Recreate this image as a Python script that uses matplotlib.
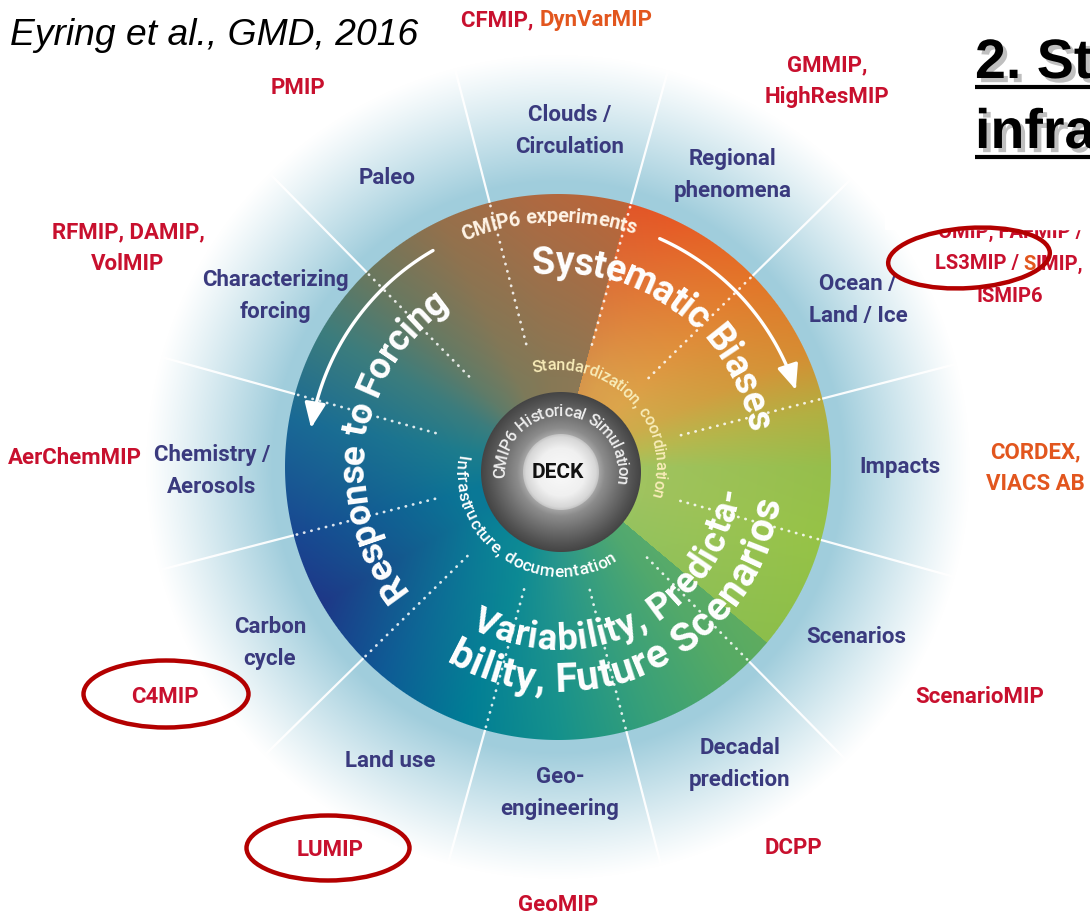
import numpy as np
import matplotlib
matplotlib.use('Agg')
import matplotlib.pyplot as plt
from matplotlib.patches import Ellipse, FancyArrowPatch, Rectangle
from matplotlib.path import Path
from matplotlib import font_manager, patheffects as pe
from matplotlib.ft2font import FT2Font

W, H = 1090, 916
FONT = ['Liberation Sans Narrow', 'DejaVu Sans Condensed', 'Roboto', 'DejaVu Sans']
BLUE = '#3a3a7e'
RED = '#c8102e'
ORANGE = '#e2561e'
LABEL_SIZE = 16

# --- data -------------------------------------------------------------
themes = ['Clouds /\nCirculation', 'Regional\nphenomena', 'Paleo', 'Characterizing\nforcing',
          'Ocean /\nLand / Ice', 'Chemistry /\nAerosols', 'Impacts', 'Carbon\ncycle',
          'Scenarios', 'Land use', 'Geo-\nengineering', 'Decadal\nprediction']
mips = ['GMMIP,\nHighResMIP', 'PMIP', 'RFMIP, DAMIP,\nVolMIP', 'AerChemMIP',
        'C4MIP', 'ScenarioMIP', 'LUMIP', 'DCPP', 'GeoMIP']
circled = ['LS3MIP', 'C4MIP', 'LUMIP']
spoke_angles = [14.5 + 30 * k for k in range(12)]

# wheel colours by angle (deg, counter-clockwise from east), outer rim and near hub
stop_angles = [0, 12, 25, 45, 65, 74.9, 75, 95, 115, 135, 150, 170, 195, 210, 230, 250, 270, 290, 310, 319.9, 320, 345, 360]
outer_rgb = [(150, 190, 75), (178, 175, 65), (215, 140, 50), (228, 115, 40), (230, 90, 38), (225, 85, 40),
             (190, 100, 55), (175, 105, 65), (150, 112, 75), (105, 120, 95), (60, 125, 125), (25, 105, 150),
             (25, 70, 145), (30, 55, 135), (15, 90, 150), (0, 125, 150), (20, 145, 140), (55, 160, 120),
             (85, 170, 100), (95, 172, 95), (140, 190, 75), (150, 195, 70), (150, 190, 75)]
inner_rgb = [(160, 195, 95), (185, 185, 80), (205, 172, 75), (220, 165, 75), (218, 158, 75), (215, 150, 75),
             (140, 120, 85), (135, 120, 85), (125, 122, 90), (95, 124, 105), (60, 125, 125), (30, 125, 140),
             (10, 120, 150), (10, 122, 150), (10, 132, 150), (15, 140, 148), (40, 150, 140), (60, 160, 125),
             (80, 168, 112), (85, 170, 110), (150, 195, 95), (160, 195, 95), (160, 195, 95)]

# --- layout -------------------------------------------------------------
CX, CY = 558, H - 467      # wheel centre
R = 273
GX, GY = 561, H - 472      # hub centre
theme_xy = [(570, 131), (733, 175), (387, 178), (275, 296), (858, 300), (212, 471),
            (900, 467), (270, 643), (856, 637), (390, 761), (560, 793), (740, 764)]
mip_xy = [(827, 81), (298, 88), (128, 248), (75, 458), (165, 697), (980, 697),
          (330, 850), (793, 848), (558, 905)]
ellipse_geo = [((969, 258), 162, 60, 4), ((166, 694), 165, 67, 0), ((328, 848), 163, 65, 0)]

fig = plt.figure(figsize=(W / 100, H / 100), dpi=100)
ax = fig.add_axes([0, 0, 1, 1])
ax.set_xlim(0, W)
ax.set_ylim(0, H)
ax.axis('off')


def Y(ypx):
    return H - ypx


# --- background glow, wheel and hub as one image ------------------------
xx, yy = np.meshgrid(np.arange(W) + 0.5, H - (np.arange(H) + 0.5))
r = np.hypot(xx - CX, yy - CY)
th = np.degrees(np.arctan2(yy - CY, xx - CX)) % 360
img = np.ones((H, W, 3))

glow = np.clip((412 - r) / 127, 0, 1) ** 1.1
glow_rgb = np.array([160, 205, 220]) / 255
img = img * (1 - glow[..., None]) + glow_rgb * glow[..., None]

outer = np.stack([np.interp(th, stop_angles, [c[i] for c in outer_rgb]) for i in range(3)], -1) / 255
inner = np.stack([np.interp(th, stop_angles, [c[i] for c in inner_rgb]) for i in range(3)], -1) / 255
t = np.clip((r - 90) / (R - 90), 0, 1)[..., None]
wheel = inner * (1 - t) + outer * t
a = np.clip(R - r + 0.5, 0, 1)[..., None]
img = img * (1 - a) + wheel * a

rg = np.hypot(xx - GX, yy - GY)
ring = np.interp(rg, [38, 44, 58, 72, 80], [165, 140, 110, 82, 68]) / 255
a = np.clip(80 - rg + 0.5, 0, 1)[..., None]
img = img * (1 - a) + ring[..., None] * a
disk = np.interp(rg, [0, 24, 35, 38], [250, 240, 215, 195]) / 255
a = np.clip(38 - rg + 0.5, 0, 1)[..., None]
img = img * (1 - a) + disk[..., None] * a

ax.imshow(img, extent=[0, W, 0, H], zorder=0, interpolation='nearest')

# --- spokes ---------------------------------------------------------------
for ang in spoke_angles:
    c, s = np.cos(np.radians(ang)), np.sin(np.radians(ang))
    ax.plot([CX + (R + 1) * c, CX + 410 * c], [CY + (R + 1) * s, CY + 410 * s],
            color='white', lw=1.6, alpha=0.95, zorder=1)
    ax.plot([CX + 127 * c, CX + (R - 2) * c], [CY + 127 * s, CY + (R - 2) * s],
            color='white', lw=2.0, alpha=0.85, linestyle=(0, (0.1, 2.6)),
            dash_capstyle='round', zorder=1)

# --- curved arrows --------------------------------------------------------
for a0, a1 in [(120, 171), (66, 18)]:
    angs = np.radians(np.linspace(a0, a1, 60))
    rr = np.full_like(angs, 250.0)
    verts = np.column_stack([CX + rr * np.cos(angs), CY + rr * np.sin(angs)])
    ax.add_patch(FancyArrowPatch(path=Path(verts), arrowstyle='-|>,head_length=0.75,head_width=0.32',
                                 mutation_scale=20, lw=2.4, color='white', zorder=2))


# --- text on arcs ---------------------------------------------------------
def advances(s, weight, style, size):
    fp = font_manager.FontProperties(family=FONT, weight=weight, style=style)
    f = FT2Font(font_manager.findfont(fp))
    f.set_size(size, 100)
    return np.array([f.load_char(ord(ch)).linearHoriAdvance / 65536 for ch in s])


def arc_text(s, rad, a_start, a_end, color, center=(CX, CY), weight='bold', style='normal'):
    cx, cy = center
    adv = advances(s, weight, style, 20.0)
    span = np.radians(abs(a_end - a_start)) * rad
    k = span / (adv.sum() - adv[0] / 2 - adv[-1] / 2)
    size = 20 * k
    adv = adv * k
    pos = np.cumsum(adv) - adv / 2 - adv[0] / 2
    step = 1 if a_end > a_start else -1
    inward = step == 1
    em = size * 100 / 72
    rb = rad + (0.3 * em if inward else -0.3 * em)
    for ch, d in zip(s, pos):
        if ch == ' ':
            continue
        ang = a_start + step * np.degrees(d / rad)
        x = cx + rb * np.cos(np.radians(ang))
        y = cy + rb * np.sin(np.radians(ang))
        ax.text(x, y, ch, rotation=(ang + 90 if inward else ang - 90), rotation_mode='anchor',
                ha='center', va='baseline', fontsize=size, color=color, family=FONT,
                weight=weight, style=style, zorder=3)


arc_text('Response to Forcing', 205, 216, 127, 'white')
arc_text('Systematic Biases', 205, 94, 13, 'white')
arc_text('Variability, Predicta-', 172, -115, -9, 'white')
arc_text('bility, Future Scenarios', 213, -117, -11, 'white')
arc_text('CMIP6 experiments', 251, 111, 73, '#fff4e6', weight='bold')
arc_text('Standardization, coordination', 102, 102, -15, '#f8ecb8', weight='medium')
arc_text('CMIP6 Historical Simulation', 61, 181, -8, '#eeeeee', center=(GX, GY), weight='medium')
arc_text('Infrastructure, documentation', 100, 172, 300, 'white', center=(GX, GY), weight='medium')

ax.text(GX - 3, GY, 'DECK', ha='center', va='center', fontsize=15, weight='bold',
        family=FONT, color='#111111', zorder=3)

# --- labels around the wheel ----------------------------------------------
for name, (x, y) in zip(themes, theme_xy):
    ax.text(x, Y(y), name, ha='center', va='center', fontsize=LABEL_SIZE, weight='bold',
            family=FONT, color=BLUE, linespacing=1.6, zorder=3)
for name, (x, y) in zip(mips, mip_xy):
    ax.text(x, Y(y), name, ha='center', va='center', fontsize=LABEL_SIZE, weight='bold',
            family=FONT, color=RED, linespacing=1.6, zorder=3)
ax.text(1035, Y(468), 'CORDEX,\nVIACS AB', ha='center', va='center', fontsize=LABEL_SIZE,
        weight='bold', family=FONT, color=ORANGE, linespacing=1.6, zorder=3)


def colored_line(xc, ypx, pieces, size=LABEL_SIZE, zorder=3):
    widths = [advances(txt, 'bold', 'normal', size).sum() for txt, _ in pieces]
    x = xc - sum(widths) / 2
    for (txt, col), w in zip(pieces, widths):
        ax.text(x, Y(ypx), txt, ha='left', va='center', fontsize=size, weight='bold',
                family=FONT, color=col, zorder=zorder)
        x += w


colored_line(557, 20, [('CFMIP, ', RED), ('DynVarMIP', ORANGE)])
colored_line(1010, 232, [('OMIP, FAFMIP /', RED)], size=14.5, zorder=2)
colored_line(1009, 264, [('LS3MIP / ', RED), ('S', ORANGE), ('IMIP,', RED)], size=14.5)
colored_line(1010, 297, [('ISMIP6', RED)], size=14.5)

# --- slide elements: title box, citation, circles --------------------------
ax.add_patch(Rectangle((885, Y(229)), W - 885, 229, color='white', zorder=2.5))
shadow = [pe.withSimplePatchShadow(offset=(3, -3), shadow_rgbFace='k', alpha=0.25)]
TFONT = ['Liberation Sans', 'DejaVu Sans']
ax.text(975, Y(78), '2. St', ha='left', va='baseline', fontsize=40, weight='bold',
        family=TFONT, color='black', path_effects=shadow, zorder=4)
ax.text(975, Y(148), 'infra', ha='left', va='baseline', fontsize=40, weight='bold',
        family=TFONT, color='black', path_effects=shadow, zorder=4)
for yu in (87, 157):
    ax.plot([975, W + 5], [Y(yu), Y(yu)], color='black', lw=3, path_effects=shadow,
            solid_capstyle='butt', zorder=4)

ax.text(10, Y(45), 'Eyring et al., GMD, 2016', ha='left', va='baseline', fontsize=26.8,
        style='italic', family=TFONT, color='black', zorder=4)

for name, ((x, y), w, h, tilt) in zip(circled, ellipse_geo):
    ax.add_patch(Ellipse((x, Y(y)), w, h, angle=tilt, fill=False, ec='#b30000', lw=3.2, zorder=5))

fig.savefig('out.png', dpi=100)
